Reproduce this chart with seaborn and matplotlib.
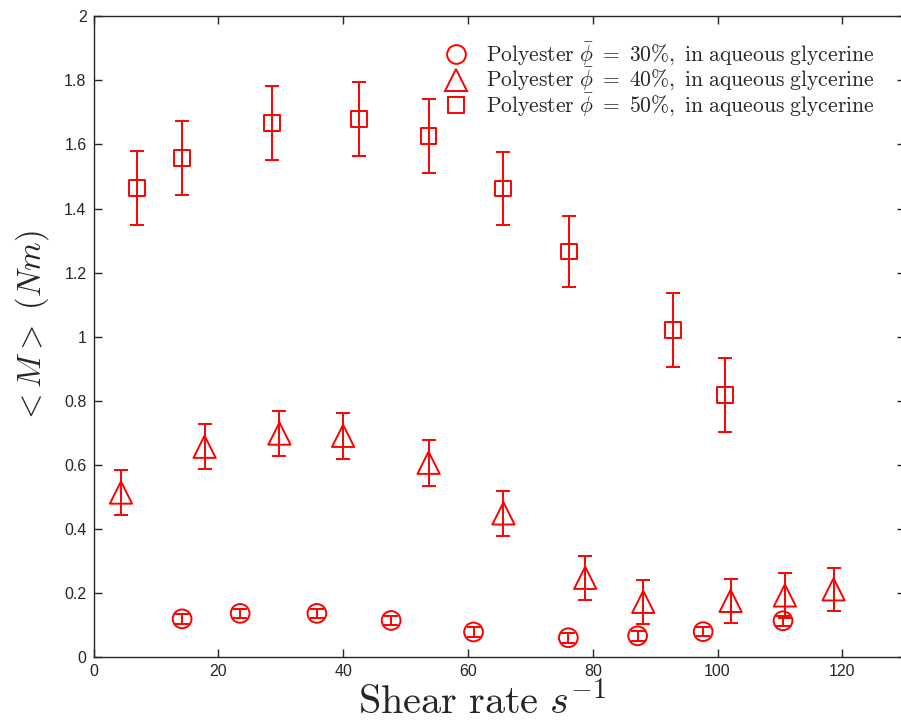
import numpy as np
import pandas as pd
import matplotlib
matplotlib.use("Agg")
import matplotlib.pyplot as plt
from matplotlib.lines import Line2D
import seaborn as sns

# Mean torque vs shear rate for three solid fractions
shear_30 = [14.2, 23.5, 35.8, 47.7, 60.9, 76.1, 87.2, 97.7, 110.5]
torque_30 = [0.120, 0.137, 0.137, 0.115, 0.079, 0.061, 0.067, 0.080, 0.114]
err_30 = [0.015, 0.015, 0.015, 0.015, 0.015, 0.015, 0.015, 0.015, 0.015]

shear_40 = [4.4, 17.8, 29.8, 40.0, 53.7, 65.7, 78.8, 88.1, 102.1, 110.8, 118.6]
torque_40 = [0.514, 0.657, 0.698, 0.691, 0.607, 0.449, 0.248, 0.173, 0.176, 0.193, 0.212]
err_40 = [0.070, 0.071, 0.071, 0.071, 0.071, 0.070, 0.069, 0.068, 0.068, 0.070, 0.068]

shear_50 = [7.0, 14.2, 28.6, 42.6, 53.7, 65.6, 76.2, 92.9, 101.2]
torque_50 = [1.465, 1.557, 1.668, 1.680, 1.627, 1.463, 1.266, 1.021, 0.818]
err_50 = [0.115, 0.116, 0.115, 0.116, 0.115, 0.115, 0.112, 0.116, 0.115]

labels = [r"$\mathrm{Polyester}\ \bar{\phi}\ =\ 30\%,\ \mathrm{in\ aqueous\ glycerine}$",
          r"$\mathrm{Polyester}\ \bar{\phi}\ =\ 40\%,\ \mathrm{in\ aqueous\ glycerine}$",
          r"$\mathrm{Polyester}\ \bar{\phi}\ =\ 50\%,\ \mathrm{in\ aqueous\ glycerine}$"]
markers = ["o", "^", "s"]
marker_pts = [13.5, 16.0, 11.3]

x_ticks = [0, 20, 40, 60, 80, 100, 120]
y_ticks = [0, 0.2, 0.4, 0.6, 0.8, 1.0, 1.2, 1.4, 1.6, 1.8, 2.0]
y_ticklabels = ["0", "0.2", "0.4", "0.6", "0.8", "1", "1.2", "1.4", "1.6", "1.8", "2"]

frames = []
for lab, xs, ys, es in zip(labels, [shear_30, shear_40, shear_50],
                           [torque_30, torque_40, torque_50], [err_30, err_40, err_50]):
    frames.append(pd.DataFrame({"shear": xs, "torque": ys, "err": es, "series": lab}))
df = pd.concat(frames, ignore_index=True)

sns.set_theme(style="white")
plt.rcParams["font.family"] = ["Liberation Sans", "DejaVu Sans"]
plt.rcParams["mathtext.fontset"] = "cm"

red = "#ff0000"
axis_col = "#262626"

fig = plt.figure(figsize=(9.01, 7.21), dpi=100)
W, H = 901, 721
x0, x1 = 93.5, 904.7
y0, y1 = 657.3, 16.3
ax = fig.add_axes([x0 / W, 1 - y0 / H, (x1 - x0) / W, (y0 - y1) / H])

for lab, mk, ms in zip(labels, markers, marker_pts):
    sub = df[df["series"] == lab]
    ax.errorbar(sub["shear"], sub["torque"], yerr=sub["err"], fmt="none",
                ecolor=red, elinewidth=1.4, capsize=4.7, capthick=1.4, zorder=2)
    sns.scatterplot(data=sub, x="shear", y="torque", marker=mk, s=ms ** 2,
                    facecolor="none", edgecolor=red, linewidth=1.4,
                    legend=False, ax=ax, zorder=3)

ax.set_xlim(0, 130)
ax.set_ylim(0, 2)
ax.set_xticks(x_ticks)
ax.set_xticklabels([str(t) for t in x_ticks])
ax.set_yticks(y_ticks)
ax.set_yticklabels(y_ticklabels)
ax.tick_params(direction="in", length=6, width=1.0, color=axis_col,
               labelcolor=axis_col, labelsize=11.5, top=True, right=True,
               bottom=True, left=True, pad=5)
for sp in ax.spines.values():
    sp.set_color(axis_col)
    sp.set_linewidth(1.0)

ax.set_xlabel(r"$\mathrm{Shear\ rate}\ s^{-1}$", fontsize=29)
ax.xaxis.set_label_coords(0.4795, -0.037, transform=ax.transAxes)
ax.xaxis.label.set_va("top")
ax.set_ylabel(r"$<M>\ (Nm)$", fontsize=23.5)
ax.yaxis.set_label_coords(-0.053, 0.515, transform=ax.transAxes)

handles = [Line2D([], [], linestyle="none", marker=mk, markersize=ms,
                  markerfacecolor="none", markeredgecolor=red, markeredgewidth=1.4)
           for mk, ms in zip(markers, marker_pts)]
ax.legend(handles, labels, loc="upper left", bbox_to_anchor=(431 / W, 1 - 30 / H),
          bbox_transform=fig.transFigure, frameon=False, fontsize=15.5,
          handlelength=1.35, handletextpad=0.72, labelspacing=-0.08, borderpad=0)

fig.savefig("out.png", dpi=100)
